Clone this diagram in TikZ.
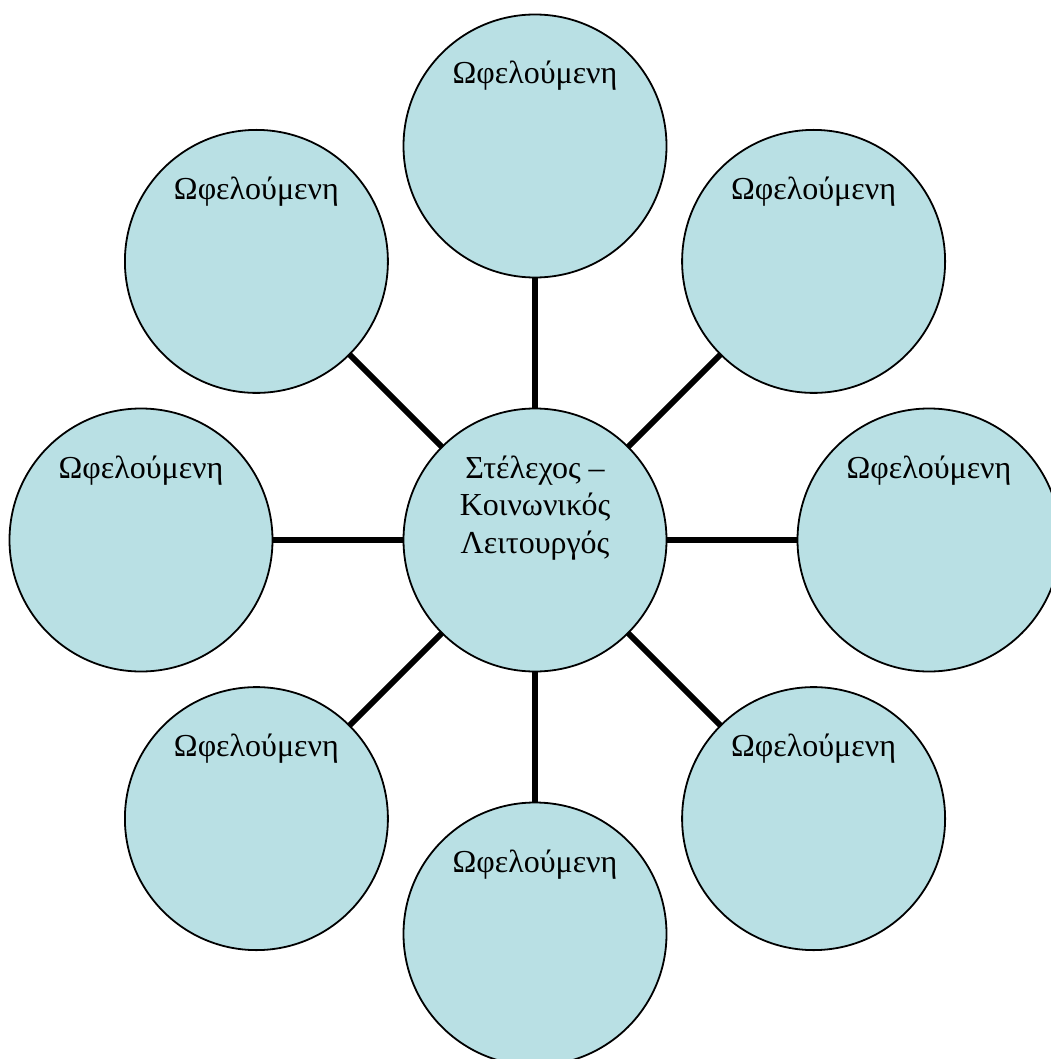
\documentclass[tikz,border=0pt]{standalone}
\usepackage{fontspec}
\setmainfont{Liberation Serif}
\definecolor{bubble}{RGB}{185,224,228}
\tikzset{
  bub/.style={circle, draw=black, line width=1.8pt, fill=bubble, minimum size=263pt, inner sep=0pt, outer sep=0pt},
  lbl/.style={anchor=base, inner sep=0pt, font=\fontsize{32}{37.5}\selectfont, align=center},
  spoke/.style={line width=5.8pt}
}
\begin{document}
\begin{tikzpicture}[x=1pt,y=-1pt]
\useasboundingbox (0,0) rectangle (1050,1059);
\node[bub] (c)  at (535,540) {};
\node[bub] (t)  at (535,146) {};
\node[bub] (tr) at (813.6,261.4) {};
\node[bub] (r)  at (929,540) {};
\node[bub] (br) at (813.6,818.6) {};
\node[bub] (b)  at (535,934) {};
\node[bub] (bl) at (256.4,818.6) {};
\node[bub] (l)  at (141,540) {};
\node[bub] (tl) at (256.4,261.4) {};
\foreach \n in {t,tr,r,br,b,bl,l,tl}{
  \draw[spoke] (c) -- (\n);
  \node[lbl] (\n txt) at ([yshift=62pt]\n.center) {Ωφελούμενη};
}
\node[lbl] (ctxt) at ([yshift=-13pt]c.center) {Στέλεχος –\\Κοινωνικός\\Λειτουργός};
\end{tikzpicture}
\end{document}
